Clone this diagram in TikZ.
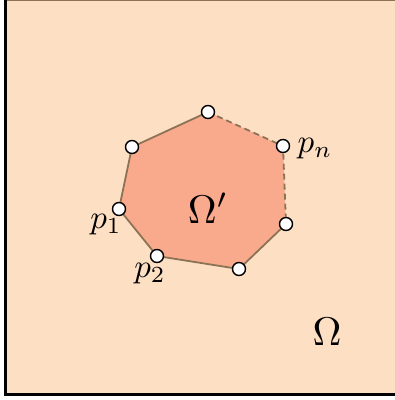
\documentclass[tikz,border=0pt]{standalone}
\begin{document}
\begin{tikzpicture}[x=1pt,y=-1pt,
  vtx/.style={circle,draw=black,fill=white,line width=1.4pt,minimum size=13pt,inner sep=0pt},
  edge/.style={draw=edgec,line width=1.8pt},
  dedge/.style={draw=edgec,line width=1.8pt,dash pattern=on 6pt off 4pt},
  lab/.style={scale=3.3,inner sep=0pt},
  big/.style={scale=4,inner sep=0pt}]
\definecolor{bgc}{RGB}{253,223,196}
\definecolor{polyc}{RGB}{250,170,140}
\definecolor{edgec}{RGB}{140,115,85}
\useasboundingbox (0,0) rectangle (395,400);
\fill[bgc] (5,0) rectangle (395,395);
\draw[edgec,line width=1pt] (5,0.5) -- (395,0.5);
\draw[black,line width=2.5pt] (5.3,0) -- (5.3,394.5) -- (395,394.5);
\coordinate (a) at (208,112);
\coordinate (b) at (132,147);
\coordinate (c) at (119,209);
\coordinate (d) at (157,256);
\coordinate (e) at (239,269);
\coordinate (f) at (286,224);
\coordinate (g) at (283,146);
\fill[polyc] (a) -- (b) -- (c) -- (d) -- (e) -- (f) -- (g) -- cycle;
\draw[edge] (a) -- (b) -- (c) -- (d) -- (e) -- (f);
\draw[dedge] (a) -- (g) -- (f);
\foreach \p in {a,b,c,d,e,f,g} \node[vtx] (v\p) at (\p) {};
\node[lab,anchor=west] (ln) at (297,149) {$p_n$};
\node[lab] (l1) at (106,225) {$p_1$};
\node[lab] (l2) at (150,274) {$p_2$};
\node[big] (om1) at (208,208) {$\Omega'$};
\node[big] (om) at (327,332) {$\Omega$};
\end{tikzpicture}
\end{document}
